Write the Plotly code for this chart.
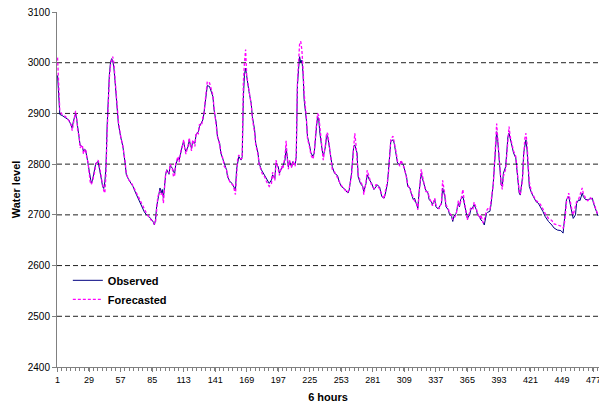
import plotly.graph_objects as go

# ---- data ----
step = [1,2,3,5,8,11,13,14,15,17,18,19,20,21,23,24,25,26,27,28,29,30,31,32,34,35,37,38,40,41,42,43,44,45,46,47,48,49,50,51,52,53,54,55,57,59,61,62,64,66,68,70,72,74,76,78,80,82,84,86,87,88,89,90,91,92,93,94,95,96,97,98,100,101,103,104,105,106,108,109,110,111,112,113,114,115,117,118,119,120,121,123,124,126,127,129,130,131,132,133,134,136,137,139,140,142,143,145,146,148,149,151,152,154,156,157,159,160,161,162,164,165,166,167,168,169,170,171,173,174,176,177,179,180,182,183,185,186,188,189,191,192,194,195,197,198,200,201,203,204,205,206,207,209,210,212,213,214,215,216,217,218,219,220,222,223,225,226,228,229,231,232,233,234,236,237,239,240,241,242,244,245,247,249,250,251,253,256,258,259,260,262,264,265,266,267,268,270,272,273,275,276,278,280,282,284,285,287,289,291,292,294,295,296,297,299,300,302,303,305,306,308,309,311,312,314,315,317,318,320,321,322,324,325,327,328,330,331,333,334,336,337,339,340,342,343,345,346,348,349,351,352,353,355,357,358,359,361,362,364,365,367,368,370,371,373,374,376,377,379,380,382,383,385,386,388,389,390,391,392,393,394,395,396,397,399,400,401,402,403,405,406,408,409,410,411,412,414,415,416,417,418,419,420,422,424,426,428,430,432,434,437,440,442,445,448,450,451,452,453,455,456,458,459,461,462,464,465,467,468,470,472,474,476,477,479,481]

observed = [2975,2940,2898,2896,2892,2887,2877,2871,2884,2900,2888,2868,2854,2838,2834,2825,2830,2826,2815,2802,2789,2769,2762,2768,2789,2802,2805,2795,2769,2756,2752,2765,2795,2874,2940,2976,3000,3008,3004,2990,2965,2940,2907,2880,2854,2835,2802,2780,2770,2764,2756,2745,2735,2726,2716,2706,2700,2697,2692,2686,2680,2690,2716,2730,2740,2753,2743,2750,2733,2762,2779,2789,2780,2797,2792,2785,2782,2799,2812,2808,2822,2828,2838,2845,2831,2825,2835,2848,2838,2831,2845,2841,2858,2864,2874,2881,2887,2900,2920,2943,2955,2953,2947,2933,2907,2881,2854,2841,2822,2808,2799,2789,2775,2766,2762,2757,2749,2790,2808,2815,2808,2815,2930,2976,2989,2970,2956,2943,2920,2894,2868,2841,2822,2802,2789,2785,2779,2772,2766,2762,2769,2779,2772,2802,2795,2782,2792,2795,2808,2831,2815,2795,2805,2795,2805,2799,2815,2953,2986,3012,3000,3005,2980,2927,2887,2854,2835,2822,2815,2822,2874,2894,2887,2861,2828,2815,2835,2858,2854,2841,2815,2795,2782,2779,2775,2766,2756,2751,2745,2743,2749,2780,2835,2838,2830,2822,2775,2762,2756,2746,2762,2779,2769,2762,2750,2756,2759,2755,2736,2733,2740,2762,2789,2828,2845,2848,2841,2815,2802,2799,2805,2799,2789,2775,2756,2753,2743,2730,2733,2720,2713,2743,2782,2772,2756,2749,2743,2730,2726,2720,2730,2716,2712,2716,2722,2753,2736,2716,2710,2702,2697,2687,2697,2703,2723,2716,2730,2736,2726,2703,2693,2700,2710,2716,2720,2710,2700,2696,2690,2686,2680,2703,2705,2707,2720,2762,2802,2848,2864,2845,2815,2782,2759,2756,2782,2795,2822,2854,2861,2850,2828,2822,2812,2789,2756,2743,2739,2775,2822,2841,2848,2828,2789,2756,2743,2733,2726,2723,2716,2707,2697,2687,2680,2674,2670,2669,2664,2683,2710,2730,2736,2723,2703,2693,2700,2723,2730,2728,2743,2736,2730,2730,2731,2733,2723,2710,2698]

forecasted = [3010,2960,2905,2898,2894,2886,2878,2866,2880,2905,2892,2862,2858,2832,2838,2820,2828,2830,2812,2805,2784,2765,2760,2766,2785,2800,2808,2800,2772,2758,2748,2743,2780,2860,2935,2970,2995,3005,3012,3000,2968,2945,2910,2885,2856,2836,2805,2782,2770,2765,2757,2748,2737,2728,2718,2709,2703,2696,2690,2688,2682,2684,2708,2735,2742,2748,2740,2745,2723,2758,2782,2787,2782,2800,2790,2775,2778,2802,2815,2804,2818,2832,2836,2848,2830,2820,2838,2852,2836,2826,2848,2835,2862,2860,2878,2876,2892,2898,2922,2948,2963,2960,2950,2936,2910,2878,2856,2838,2825,2810,2796,2790,2778,2765,2760,2758,2740,2775,2812,2818,2810,2812,2960,3000,3026,2975,2960,2940,2918,2890,2862,2838,2820,2800,2786,2780,2775,2768,2760,2756,2762,2784,2768,2808,2790,2778,2796,2790,2815,2846,2812,2790,2808,2793,2806,2796,2818,2960,3000,3038,3042,3025,2990,2940,2892,2850,2832,2818,2810,2825,2880,2900,2895,2870,2830,2808,2840,2862,2860,2845,2808,2790,2785,2776,2772,2768,2758,2750,2744,2746,2752,2775,2830,2861,2840,2815,2780,2765,2758,2740,2765,2788,2772,2758,2752,2760,2756,2752,2740,2732,2745,2766,2785,2820,2850,2855,2845,2820,2805,2796,2808,2796,2792,2772,2760,2750,2745,2735,2728,2722,2710,2738,2790,2778,2760,2746,2745,2735,2724,2718,2733,2720,2715,2712,2725,2768,2740,2720,2712,2705,2698,2690,2693,2700,2728,2718,2726,2750,2730,2708,2690,2705,2715,2712,2725,2712,2703,2693,2700,2684,2690,2708,2712,2710,2724,2760,2800,2850,2880,2850,2820,2790,2762,2750,2776,2790,2818,2850,2874,2855,2832,2826,2815,2795,2765,2748,2740,2770,2815,2850,2861,2840,2800,2765,2745,2736,2728,2725,2720,2712,2703,2693,2689,2682,2680,2678,2674,2680,2700,2725,2743,2730,2708,2700,2720,2726,2732,2738,2753,2742,2733,2728,2734,2730,2726,2712,2700]

gridlines = [2500, 2600, 2700, 2800, 2900, 3000]
y_ticks = [2400, 2500, 2600, 2700, 2800, 2900, 3000, 3100]
x_ticks = [1, 29, 57, 85, 113, 141, 169, 197, 225, 253, 281, 309, 337, 365, 393, 421, 449, 477]
x_tick_labels = [str(v) for v in x_ticks]

fig = go.Figure()
fig.add_trace(go.Scatter(x=step, y=observed, mode="lines", name="Observed",
                         line=dict(color="#000080", width=1)))
fig.add_trace(go.Scatter(x=step, y=forecasted, mode="lines", name="Forecasted",
                         line=dict(color="#FF00FF", width=1.3, dash="3px,2px")))

for g in gridlines:
    fig.add_shape(type="line", xref="paper", x0=0, x1=1, yref="y", y0=g, y1=g,
                  line=dict(color="#222222", width=1, dash="5px,3px"), layer="below")

fig.update_layout(
    width=599, height=405,
    margin=dict(l=57, r=0, t=12, b=38, autoexpand=False),
    paper_bgcolor="white", plot_bgcolor="white",
    font=dict(family="Liberation Sans, Arial, sans-serif", color="black", size=10),
    showlegend=True,
    legend=dict(x=0.02, y=0.285, xanchor="left", yanchor="top",
                bgcolor="rgba(0,0,0,0)", borderwidth=0,
                font=dict(size=11, family="Liberation Sans, Arial, sans-serif", weight="bold"),
                tracegroupgap=0, itemwidth=30),
)
fig.update_xaxes(range=[0.5, 481.9], tickmode="array", tickvals=x_ticks, ticktext=x_tick_labels,
                 showgrid=False, zeroline=False, showline=True, linecolor="#808080", linewidth=1,
                 ticks="outside", ticklen=4, tickcolor="#808080", tickfont=dict(size=9),
                 ticklabeloverflow="allow",
                 minor=dict(tickmode="linear", tick0=0.5, dtick=4, ticks="outside", ticklen=3, tickcolor="#808080"),
                 title=dict(text="6 hours", font=dict(size=11, weight="bold"), standoff=9))
fig.update_yaxes(range=[2400, 3100], tickmode="array", tickvals=y_ticks,
                 showgrid=False, zeroline=False, showline=True, linecolor="#808080", linewidth=1,
                 ticks="outside", ticklen=4, tickcolor="#808080", tickfont=dict(size=10),
                 title=dict(text="Water level", font=dict(size=11, weight="bold"), standoff=4))

fig.write_html("out.html", config={"displayModeBar": False},
               post_script="document.body.style.margin='0px';")
